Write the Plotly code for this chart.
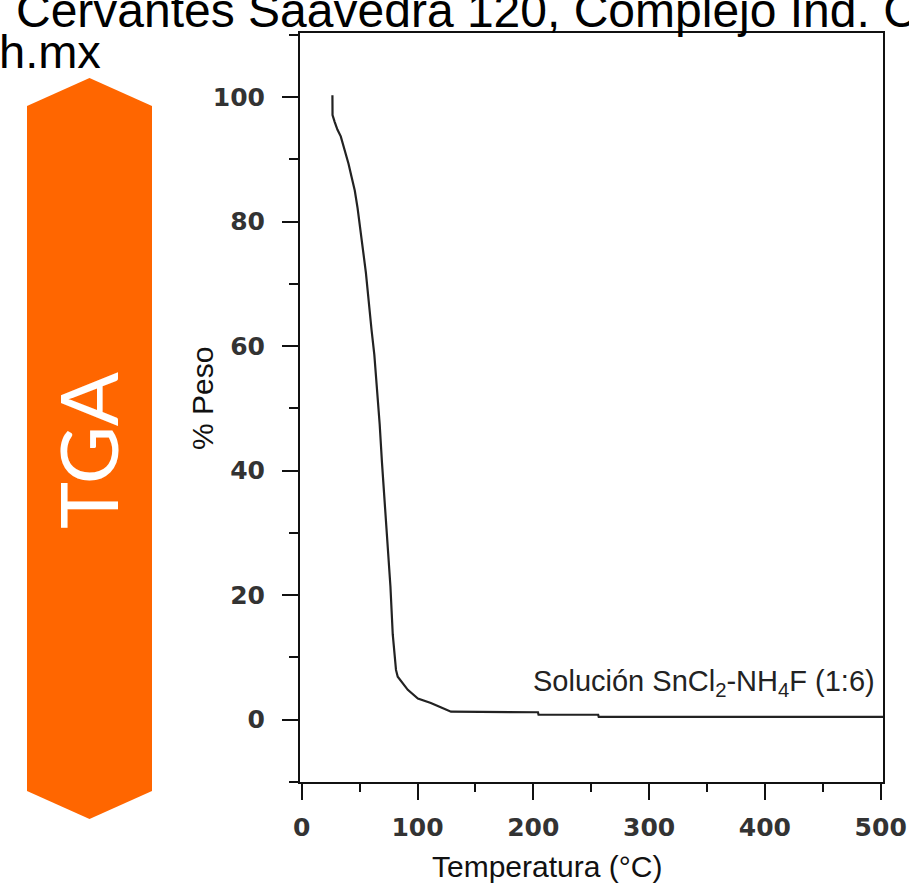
import plotly.graph_objects as go

# ---- data ----
temperatura = [26.5, 26.6, 28.5, 30.8, 33.7, 36.0, 38.0, 40.4, 43.0, 45.8, 48.2, 50.5,
               52.8, 55.4, 57.5, 60.3, 62.7, 64.9, 67.3, 69.3, 71.4, 74.2, 76.6, 78.6,
               81.4, 82.9, 91.6, 100.3, 111.5, 120.0, 128.9, 204.0, 204.5, 256.0,
               256.5, 502.0]
peso = [100.3, 97.1, 96.0, 94.8, 93.7, 92.3, 90.8, 89.3, 87.2, 85.0, 82.2, 79.2,
        75.6, 71.8, 67.4, 62.6, 58.6, 53.5, 47.5, 41.3, 35.1, 28.7, 21.4, 13.7,
        8.0, 6.9, 4.8, 3.4, 2.7, 2.0, 1.3, 1.2, 0.8, 0.8,
        0.45, 0.45]
x_ticks = [0, 100, 200, 300, 400, 500]
y_ticks = [0, 20, 40, 60, 80, 100]
x_title = "Temperatura (°C)"
y_title = "% Peso"
serie_label = "Solución SnCl<sub>2</sub>-NH<sub>4</sub>F (1:6)"
side_label = "TGA"
header_line1 = "Cervantes Saavedra 120, Complejo Ind. C"
header_line2 = "h.mx"

# ---- layout geometry (pixels) ----
W, H = 909, 886
L, R, T, B = 300, 883, 33, 782          # plot frame
PW, PH = R - L, B - T


def px(x):
    return (x - L) / PW


def py(y):
    return (B - y) / PH


fig = go.Figure()
fig.add_trace(go.Scatter(x=temperatura, y=peso, mode="lines",
                         line=dict(color="#222222", width=2.2), showlegend=False,
                         hoverinfo="x+y"))

tickfont = dict(family="DejaVu Sans, Verdana, sans-serif", size=25, color="#333333",
                weight="bold")
axis_col = "#111111"

fig.update_xaxes(range=[-1.5, 502], tickvals=x_ticks, ticktext=[str(v) for v in x_ticks],
                 showline=True, linecolor=axis_col, linewidth=2, mirror=True,
                 ticks="outside", ticklen=16, tickwidth=2, tickcolor=axis_col,
                 minor=dict(dtick=50, tick0=0, ticks="outside", ticklen=8, tickwidth=2,
                            tickcolor=axis_col, showgrid=False),
                 showgrid=False, zeroline=False, tickfont=tickfont,
                 ticklabelstandoff=6, automargin=False)
fig.update_yaxes(range=[-10, 110.3], tickvals=y_ticks, ticktext=[str(v) for v in y_ticks],
                 showline=True, linecolor=axis_col, linewidth=2, mirror=True,
                 ticks="outside", ticklen=16, tickwidth=2, tickcolor=axis_col,
                 minor=dict(dtick=10, tick0=0, ticks="outside", ticklen=9, tickwidth=2,
                            tickcolor=axis_col, showgrid=False),
                 showgrid=False, zeroline=False, tickfont=tickfont,
                 ticklabelstandoff=12, automargin=False)

# orange vertical double arrow (hexagon)
hx_l, hx_r, hx_c = 27, 152, 89.5
hy_top, hy_sh1, hy_sh2, hy_bot = 78, 106, 791, 819
path = (f"M {px(hx_c)},{py(hy_top)} L {px(hx_r)},{py(hy_sh1)} L {px(hx_r)},{py(hy_sh2)} "
        f"L {px(hx_c)},{py(hy_bot)} L {px(hx_l)},{py(hy_sh2)} L {px(hx_l)},{py(hy_sh1)} Z")
fig.add_shape(type="path", path=path, xref="paper", yref="paper",
              fillcolor="#FF6600", line=dict(width=0), layer="below")

txt_font = "Liberation Sans, Arial, sans-serif"
annotations = [
    dict(text=side_label, x=px(87), y=py(451), xref="paper", yref="paper",
         showarrow=False, textangle=-90, xanchor="center", yanchor="middle",
         font=dict(family="Lato, sans-serif", size=80, color="white")),
    dict(text=serie_label, x=px(877), y=py(683), xref="paper", yref="paper",
         showarrow=False, xanchor="right", yanchor="middle",
         font=dict(family=txt_font, size=29, color="#222222")),
    dict(text=x_title, x=px(547), y=py(866), xref="paper", yref="paper",
         showarrow=False, xanchor="center", yanchor="middle",
         font=dict(family=txt_font, size=30, color="#111111")),
    dict(text=y_title, x=px(202), y=py(399), xref="paper", yref="paper",
         showarrow=False, textangle=-90, xanchor="center", yanchor="middle",
         font=dict(family=txt_font, size=30, color="#111111")),
    dict(text=header_line1, x=px(14), y=py(10), xref="paper", yref="paper",
         showarrow=False, xanchor="left", yanchor="middle",
         font=dict(family=txt_font, size=48, color="black")),
    dict(text=header_line2, x=px(-3), y=py(52), xref="paper", yref="paper",
         showarrow=False, xanchor="left", yanchor="middle",
         font=dict(family=txt_font, size=47, color="black")),
]
fig.update_layout(width=W, height=H,
                  margin=dict(l=L, r=W - R, t=T, b=H - B, autoexpand=False),
                  paper_bgcolor="white", plot_bgcolor="white",
                  annotations=annotations, showlegend=False)

fig.write_html("out.html", config={"displayModeBar": False},
               post_script="document.body.style.margin='0';document.body.style.overflow='hidden';")
